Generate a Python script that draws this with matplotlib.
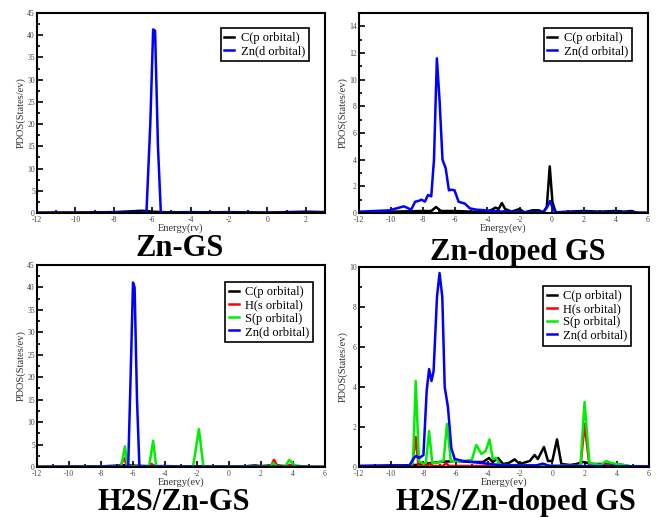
import matplotlib
matplotlib.use('Agg')
import matplotlib.pyplot as plt
from matplotlib.ticker import MultipleLocator

plt.rcParams['font.family'] = ['Liberation Serif', 'DejaVu Serif']
plt.rcParams['axes.unicode_minus'] = False

# ---- Zn-GS ----
zngs_c_e = [-12, -11, -10, -9, -8, -7.5, -7, -6.6, -6.3, -6, -5.5, -5, -4, -3, -2, -1, 0, 1, 2, 3]
zngs_c_p = [0.05, 0.1, 0.1, 0.15, 0.2, 0.3, 0.4, 0.5, 0.45, 0.3, 0.2, 0.15, 0.2, 0.15, 0.2, 0.15, 0.1, 0.2, 0.3, 0.2]
zngs_zn_e = [-12, -6.3, -6.1, -5.95, -5.85, -5.7, -5.55, 3]
zngs_zn_p = [0.05, 0.1, 20, 41.3, 41, 15, 0.1, 0.05]

# ---- Zn-doped GS ----
zdgs_c_e = [-12, -10, -8, -7.5, -7.2, -6.9, -6, -5, -4, -3.8, -3.5, -3.3, -3.1, -2.9, -2.5, -2.0, -1.7, -1.2,
            -0.8, -0.5, -0.3, -0.12, 0.05, 0.25, 1, 2, 3, 4, 4.5, 5, 5.3, 6]
zdgs_c_p = [0.05, 0.1, 0.15, 0.15, 0.45, 0.15, 0.15, 0.1, 0.1, 0.2, 0.4, 0.3, 0.75, 0.3, 0.1, 0.3, 0.05, 0.2,
            0.2, 0.05, 0.5, 3.5, 0.8, 0.05, 0.1, 0.15, 0.1, 0.15, 0.1, 0.15, 0.02, 0.0]
zdgs_zn_e = [-12, -10.1, -9.2, -8.75, -8.5, -8.3, -8.1, -7.9, -7.7, -7.5, -7.33, -7.15, -6.98, -6.8, -6.6,
             -6.4, -6.25, -6.05, -5.8, -5.4, -5.1, -4.7, -4.1, -3.0, -1.8, -0.55, -0.3, -0.1, 0.1, 0.3, 6]
zdgs_zn_p = [0.1, 0.2, 0.5, 0.25, 0.85, 0.9, 1.0, 0.85, 1.35, 1.25, 4.0, 11.6, 8.4, 4.0, 3.35,
             1.7, 1.75, 1.7, 0.85, 0.7, 0.35, 0.25, 0.2, 0.1, 0.05, 0.05, 0.4, 0.9, 0.25, 0.05, 0.02]

# ---- H2S/Zn-GS ----
hzgs_c_e = [-12, -10, -8, -7, -6.5, -6, -5, -4, -3, -2, -1, 0, 1, 1.6, 2, 2.8, 3.5, 4, 5, 6]
hzgs_c_p = [0.05, 0.1, 0.15, 0.3, 0.4, 0.3, 0.2, 0.2, 0.15, 0.15, 0.1, 0.1, 0.15, 0.35, 0.2, 0.4, 0.2, 0.3, 0.05, 0.0]
hzgs_h_e = [-12, -6.8, -6.56, -6.35, -5.0, -4.85, -4.6, 2.6, 2.81, 3.05, 3.6, 3.8, 4.0, 6]
hzgs_h_p = [0.0, 0.05, 2.0, 0.05, 0.05, 0.7, 0.05, 0.05, 1.6, 0.05, 0.05, 0.5, 0.05, 0.0]
hzgs_s_e = [-12, -6.75, -6.5, -6.35, -5.0, -4.74, -4.55, -2.25, -1.88, -1.6, 2.55, 2.77, 3.0, 3.5, 3.77, 4.2, 6]
hzgs_s_p = [0.0, 0.05, 4.6, 0.05, 0.05, 5.85, 0.05, 0.05, 8.45, 0.05, 0.05, 0.9, 0.05, 0.05, 1.6, 0.05, 0.0]
hzgs_zn_e = [-12, -6.3, -6.15, -6.0, -5.9, -5.75, -5.6, 6]
hzgs_zn_p = [0.0, 0.1, 20, 41.1, 40, 15, 0.1, 0.0]

# ---- H2S/Zn-doped GS ----
hdgs_c_e = [-12, -10, -9, -8.5, -8, -7, -6, -5, -4.3, -3.93, -3.7, -3.37, -3.06, -2.7, -2.34, -2.03, -1.4,
            -1.1, -0.9, -0.52, -0.27, 0.0, 0.29, 0.56, 1.1, 1.5, 1.9, 2.5, 3.5, 4.4, 4.7, 5.0, 6]
hdgs_c_p = [0.05, 0.08, 0.08, 0.1, 0.15, 0.25, 0.3, 0.25, 0.25, 0.45, 0.25, 0.45, 0.15, 0.2, 0.38, 0.15, 0.3,
            0.6, 0.4, 1.0, 0.3, 0.3, 1.38, 0.15, 0.1, 0.15, 0.25, 0.15, 0.15, 0.1, 0.05, 0.0, 0.0]
hdgs_h_e = [-12, -8.7, -8.48, -8.3, -7.8, -7.6, -7.4, -6.8, -6.6, -6.4, 1.75, 2.0, 2.3, 3.2, 3.45, 3.7, 6]
hdgs_h_p = [0.0, 0.02, 1.5, 0.05, 0.05, 0.15, 0.05, 0.05, 0.18, 0.05, 0.05, 2.15, 0.1, 0.05, 0.15, 0.03, 0.0]
hdgs_s_e = [-12, -9, -8.65, -8.48, -8.28, -8.0, -7.85, -7.65, -7.45, -7.3, -6.75, -6.54, -6.3, -5.5,
            -5.0, -4.72, -4.4, -4.14, -3.9, -3.7, -3.48, -3.27, 1.7, 1.75, 2.0, 2.3, 3.0, 3.35, 3.66, 4.8, 5, 6]
hdgs_s_p = [0.03, 0.03, 0.2, 4.3, 0.3, 0.15, 0.2, 1.8, 0.2, 0.2, 0.3, 2.15, 0.3, 0.3,
            0.35, 1.1, 0.65, 0.8, 1.38, 0.4, 0.45, 0.1, 0.05, 0.1, 3.25, 0.2, 0.1, 0.3, 0.2, 0.05, 0.0, 0.0]
hdgs_zn_e = [-12, -9, -8.85, -8.6, -8.45, -8.25, -8.0, -7.8, -7.65, -7.5, -7.37, -7.16, -7.0, -6.83, -6.68,
             -6.48, -6.27, -6.06, -5.54, -4.92, -4.1, -3.06, -1.0, -0.58, -0.17, 6]
hdgs_zn_p = [0.05, 0.05, 0.1, 0.45, 0.55, 0.45, 0.6, 3.8, 4.9, 4.3, 4.8, 8.5, 9.7, 8.5, 4.0,
             3.0, 0.95, 0.4, 0.3, 0.25, 0.17, 0.08, 0.08, 0.17, 0.05, 0.03]

BLUE = '#0000ff'
RED = '#ff0000'
GREEN = '#00ee00'
W, H = 657, 517

fig = plt.figure(figsize=(6.57, 5.17), dpi=100)


def make_axes(l, r, t, b, xmax, ymax, ystep, xlabel):
    ax = fig.add_axes([l / W, 1 - b / H, (r - l) / W, (b - t) / H])
    ax.set_xlim(-12, xmax)
    ax.set_ylim(0, ymax)
    ax.xaxis.set_major_locator(MultipleLocator(2))
    ax.xaxis.set_minor_locator(MultipleLocator(1))
    ax.yaxis.set_major_locator(MultipleLocator(ystep))
    ax.yaxis.set_minor_locator(MultipleLocator(ystep / 2))
    ax.tick_params(which='both', direction='in', top=False, right=False,
                   labelsize=5.5, labelcolor='#444444', width=1.2)
    ax.tick_params(axis='x', pad=2.5)
    ax.tick_params(axis='y', pad=1.5)
    ax.tick_params(which='major', length=4.5)
    ax.tick_params(which='minor', length=2.5)
    for s in ax.spines.values():
        s.set_linewidth(1.5)
    ax.set_xlabel(xlabel, fontsize=7.5, labelpad=-1, color='#333333')
    ax.set_ylabel('PDOS(States/ev)', fontsize=7.5, labelpad=1, color='#333333')
    return ax


def add_legend(ax, loc_anchor):
    leg = ax.legend(loc='upper right', bbox_to_anchor=loc_anchor, fontsize=9, handlelength=0.8,
                    handletextpad=0.5, labelspacing=0.1, borderpad=0.3, fancybox=False,
                    framealpha=1, edgecolor='black')
    leg.get_frame().set_linewidth(1.2)


lw = 1.8

ax1 = make_axes(37, 325, 13, 213, 3, 45, 5, 'Energy(rv)')
ax1.plot(zngs_c_e, zngs_c_p, color='black', lw=lw, label='C(p orbital)')
ax1.plot(zngs_zn_e, zngs_zn_p, color=BLUE, lw=lw, label='Zn(d orbital)')
add_legend(ax1, (0.965, 0.955))

ax2 = make_axes(359, 648, 13, 213, 6, 15, 2, 'Energy(ev)')
ax2.plot(zdgs_c_e, zdgs_c_p, color='black', lw=lw, label='C(p orbital)')
ax2.plot(zdgs_zn_e, zdgs_zn_p, color=BLUE, lw=lw, label='Zn(d orbital)')
add_legend(ax2, (0.965, 0.955))

ax3 = make_axes(37, 325, 265, 467, 6, 45, 5, 'Energy(ev)')
ax3.plot(hzgs_c_e, hzgs_c_p, color='black', lw=lw, label='C(p orbital)')
ax3.plot(hzgs_h_e, hzgs_h_p, color=RED, lw=lw, label='H(s orbital)')
ax3.plot(hzgs_s_e, hzgs_s_p, color=GREEN, lw=lw, label='S(p orbital)')
ax3.plot(hzgs_zn_e, hzgs_zn_p, color=BLUE, lw=lw, label='Zn(d orbital)')
add_legend(ax3, (0.98, 0.945))

ax4 = make_axes(359, 649, 267, 467, 6, 10, 2, 'Energy(ev)')
ax4.plot(hdgs_c_e, hdgs_c_p, color='black', lw=lw, label='C(p orbital)')
ax4.plot(hdgs_h_e, hdgs_h_p, color=RED, lw=lw, label='H(s orbital)')
ax4.plot(hdgs_s_e, hdgs_s_p, color=GREEN, lw=lw, label='S(p orbital)')
ax4.plot(hdgs_zn_e, hdgs_zn_p, color=BLUE, lw=lw, label='Zn(d orbital)')
add_legend(ax4, (0.96, 0.935))

title_kw = dict(fontsize=22, fontweight='bold', ha='center', va='baseline')
fig.text(180 / W, 1 - 256 / H, 'Zn-GS', **title_kw)
fig.text(518 / W, 1 - 260 / H, 'Zn-doped GS', **title_kw)
fig.text(174 / W, 1 - 510 / H, 'H2S/Zn-GS', **title_kw)
fig.text(516 / W, 1 - 510 / H, 'H2S/Zn-doped GS', **title_kw)

fig.savefig('out.png', dpi=100)
